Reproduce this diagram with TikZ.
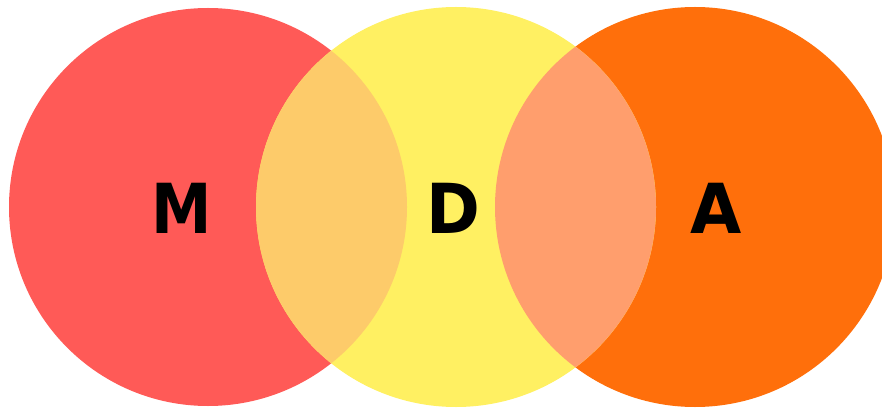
\documentclass[tikz,border=0pt]{standalone}
\usepackage{fontspec}
\setmainfont{DejaVu Sans}
\definecolor{cM}{HTML}{FF5A57}
\definecolor{cD}{HTML}{FFF062}
\definecolor{cA}{HTML}{FF6F0B}
\definecolor{cMD}{HTML}{FDCB6A}
\definecolor{cDA}{HTML}{FF9E6D}
\begin{document}
\begin{tikzpicture}[x=1pt,y=1pt,
  lettr/.style={font=\fontsize{69}{69}\selectfont\bfseries, text=black, inner sep=0pt}]
\useasboundingbox (0,0) rectangle (882,410);
\begin{scope}
\clip (0,0) rectangle (882,410);
\coordinate (cm) at (208,203);
\coordinate (cd) at (456,203);
\coordinate (ca) at (695,203);
\fill[cM] (cm) circle (199);
\fill[cA] (ca) circle (200);
\fill[cD] (cd) circle (200);
\begin{scope}
\clip (cm) circle (199);
\fill[cMD] (cd) circle (200);
\end{scope}
\begin{scope}
\clip (ca) circle (200);
\fill[cDA] (cd) circle (200);
\end{scope}
\end{scope}
\node[lettr, xscale=0.88] (M) at (181.5,201.5) {M};
\node[lettr, xscale=0.94] (D) at (453,201.5) {D};
\node[lettr, xscale=0.96] (A) at (716,201.5) {A};
\end{tikzpicture}
\end{document}
